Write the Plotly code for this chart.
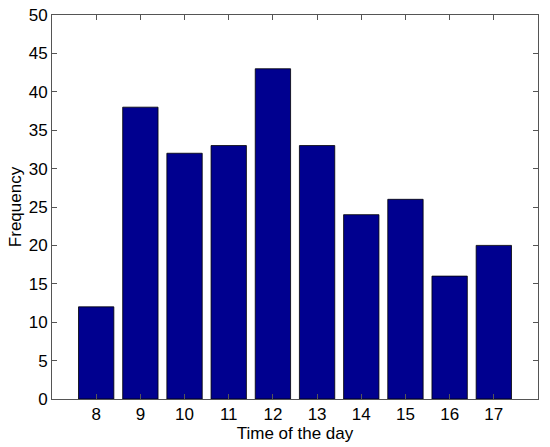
import plotly.graph_objects as go

# hours of the day and how many events fell in each
hours = [8, 9, 10, 11, 12, 13, 14, 15, 16, 17]
freq = [12, 38, 32, 33, 43, 33, 24, 26, 16, 20]
y_ticks = [0, 5, 10, 15, 20, 25, 30, 35, 40, 45, 50]

fig = go.Figure()
fig.add_trace(go.Bar(x=hours, y=freq, width=0.8,
                     marker=dict(color="#00008F", line=dict(color="black", width=0.8))))

axis_style = dict(showline=True, linecolor="#555555", linewidth=1, mirror="ticks",
                  ticks="inside", ticklen=5, tickcolor="#555555", showgrid=False,
                  zeroline=False, automargin=False, ticklabeloverflow="allow",
                  tickfont=dict(size=17, color="black"))

fig.update_layout(
    width=550, height=447,
    margin=dict(l=52, r=12, t=15, b=48),
    plot_bgcolor="white", paper_bgcolor="white",
    font=dict(family="Liberation Sans, Arial", color="black"),
    showlegend=False,
    xaxis=dict(range=[7, 18], tickvals=hours,
               title=dict(text="Time of the day", font=dict(size=17, color="black"), standoff=0),
               **axis_style),
    yaxis=dict(range=[0, 50], tickvals=y_ticks,
               title=dict(text="Frequency", font=dict(size=17, color="black"), standoff=2),
               **axis_style),
)

# drop the default 8px body margin so the figure fills the window
fig.write_html("out.html", config={"displayModeBar": False},
               post_script="document.body.style.margin='0px';")
